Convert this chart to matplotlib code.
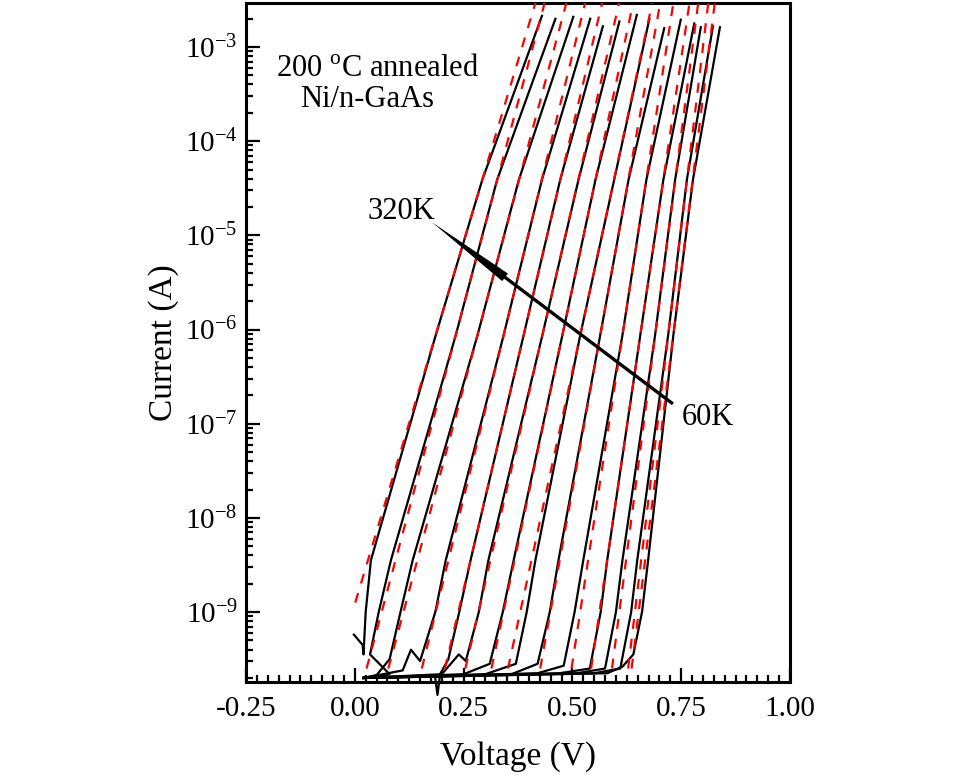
import numpy as np
import matplotlib
matplotlib.use("Agg")
import matplotlib.pyplot as plt
from matplotlib.ticker import (LogLocator, MultipleLocator, NullFormatter,
                               FormatStrFormatter, FixedLocator, LogFormatterSciNotation)

plt.rcParams['font.family'] = ['Liberation Serif', 'DejaVu Serif']
plt.rcParams['mathtext.fontset'] = 'custom'
plt.rcParams['mathtext.rm'] = 'Liberation Serif'
plt.rcParams['axes.unicode_minus'] = False

temps = [320, 300, 280, 260, 240, 220, 200, 180, 160, 140, 120, 100, 80, 60]
y_decades = [-9, -8, -7, -6, -5, -4, -3]

meas_v = [
    [-0.002, 0.018, 0.020, 0.025, 0.037, 0.186, 0.293, 0.430],
    [0.020, 0.080, 0.035, 0.055, 0.083, 0.232, 0.327, 0.461],
    [0.020, 0.050, 0.080, 0.105, 0.133, 0.282, 0.377, 0.502],
    [0.020, 0.110, 0.129, 0.150, 0.185, 0.209, 0.342, 0.430, 0.541],
    [0.020, 0.184, 0.190, 0.196, 0.215, 0.240, 0.266, 0.388, 0.472, 0.570],
    [0.020, 0.200, 0.239, 0.255, 0.285, 0.307, 0.431, 0.514, 0.608],
    [0.020, 0.250, 0.310, 0.340, 0.365, 0.477, 0.553, 0.648],
    [0.020, 0.300, 0.370, 0.395, 0.415, 0.518, 0.596, 0.677],
    [0.020, 0.360, 0.420, 0.448, 0.468, 0.564, 0.629, 0.711],
    [0.020, 0.420, 0.480, 0.505, 0.525, 0.615, 0.670, 0.749],
    [0.020, 0.470, 0.540, 0.565, 0.580, 0.656, 0.709, 0.780],
    [0.020, 0.510, 0.575, 0.600, 0.615, 0.690, 0.736, 0.795],
    [0.020, 0.550, 0.610, 0.635, 0.649, 0.720, 0.763, 0.823],
    [0.020, 0.580, 0.615, 0.640, 0.660, 0.674, 0.732, 0.777, 0.839],
]
meas_logi = [
    [-9.24, -9.35, -9.45, -9.00, -8.45, -6.06, -4.41, -2.67],
    [-9.70, -9.66, -9.45, -9.00, -8.45, -6.06, -4.41, -2.70],
    [-9.70, -9.67, -9.50, -9.00, -8.45, -6.06, -4.41, -2.68],
    [-9.70, -9.62, -9.40, -9.52, -9.00, -8.45, -6.06, -4.41, -2.70],
    [-9.70, -9.67, -9.88, -9.66, -9.50, -9.00, -8.45, -6.06, -4.41, -2.78],
    [-9.70, -9.66, -9.45, -9.52, -9.00, -8.45, -6.06, -4.41, -2.73],
    [-9.70, -9.66, -9.55, -9.00, -8.45, -6.06, -4.41, -2.66],
    [-9.70, -9.66, -9.55, -9.00, -8.45, -6.06, -4.41, -2.70],
    [-9.70, -9.66, -9.55, -9.00, -8.45, -6.06, -4.41, -2.80],
    [-9.70, -9.65, -9.57, -9.00, -8.45, -6.06, -4.41, -2.71],
    [-9.70, -9.65, -9.60, -9.00, -8.45, -6.06, -4.41, -2.75],
    [-9.70, -9.65, -9.60, -9.00, -8.45, -6.06, -4.41, -2.79],
    [-9.70, -9.65, -9.60, -9.00, -8.45, -6.06, -4.41, -2.78],
    [-9.70, -9.65, -9.58, -9.45, -9.00, -8.45, -6.06, -4.41, -2.79],
]

# fitted thermionic-emission lines (end points)
fit_v_lo = [0.001, 0.027, 0.077, 0.154, 0.207, 0.254, 0.314, 0.352, 0.426, 0.498, 0.543, 0.591, 0.628, 0.636]
fit_logi_lo = [-8.9, -9.6, -9.6, -9.6, -9.6, -9.6, -9.6, -9.6, -9.6, -9.6, -9.6, -9.6, -9.6, -9.6]
fit_v_hi = [0.417, 0.438, 0.488, 0.531, 0.570, 0.609, 0.641, 0.685, 0.703, 0.733, 0.770, 0.790, 0.813, 0.828]
fit_logi_hi = [-2.5] * 14

fig = plt.figure(figsize=(9.6, 7.75), dpi=100)
ax = fig.add_axes([246/960, 1 - 682/775, (790-246)/960, (682-3)/775])

for vs, ls in zip(meas_v, meas_logi):
    ax.plot(vs, 10.0**np.array(ls), color='black', lw=1.6, zorder=2, clip_on=False)
for v0, l0, v1, l1 in zip(fit_v_lo, fit_logi_lo, fit_v_hi, fit_logi_hi):
    ax.plot([v0, v1], [10.0**l0, 10.0**l1], color='#ff0000', lw=1.6,
            dashes=(4.5, 4.5), zorder=3)

ax.set_yscale('log')
ax.set_xlim(-0.25, 1.0)
ax.set_ylim(10**-9.743, 10**-2.533)

ax.xaxis.set_major_locator(MultipleLocator(0.25))
ax.xaxis.set_minor_locator(MultipleLocator(0.025))
ax.xaxis.set_major_formatter(FormatStrFormatter('%.2f'))
ax.yaxis.set_major_locator(FixedLocator([10.0**d for d in y_decades]))
ax.yaxis.set_major_formatter(LogFormatterSciNotation())
minor_y = [k * 10.0**d for d in range(-10, -2) for k in range(2, 10)]
lo, hi = ax.get_ylim()
ax.yaxis.set_minor_locator(FixedLocator([m for m in minor_y if lo <= m <= hi]))
ax.yaxis.set_minor_formatter(NullFormatter())

ax.tick_params(which='both', direction='in', top=False, right=False,
               labelsize=21, width=1.6)
ax.tick_params(which='major', length=10)
ax.tick_params(which='minor', length=5)
ax.tick_params(axis='x', pad=10)
ax.tick_params(axis='y', pad=6)
for sp in ax.spines.values():
    sp.set_linewidth(2.2)

ax.set_xlabel('Voltage (V)', fontsize=24, labelpad=14)
ax.set_ylabel('Current (A)', fontsize=24, labelpad=4)

ax.text(0.2426, 0.8925, '200 $^{\\mathregular{o}}$C annealed', transform=ax.transAxes,
        fontsize=22, ha='center', va='baseline')
ax.text(0.2233, 0.8473, 'Ni/n-GaAs', transform=ax.transAxes,
        fontsize=22, ha='center', va='baseline')

ax.annotate('', xy=(0.177, 10**-4.86), xytext=(0.731, 10**-6.79),
            arrowprops=dict(arrowstyle='simple,head_length=3.3,head_width=0.34,tail_width=0.12',
                            mutation_scale=20, fc='black', ec='none', lw=0,
                            shrinkA=0, shrinkB=0))
ax.text(0.029, 10**-4.829, '320K', fontsize=22, ha='left', va='baseline')
ax.text(0.7516, 10**-7.013, '60K', fontsize=22, ha='left', va='baseline')

fig.savefig('out.png', dpi=100)
